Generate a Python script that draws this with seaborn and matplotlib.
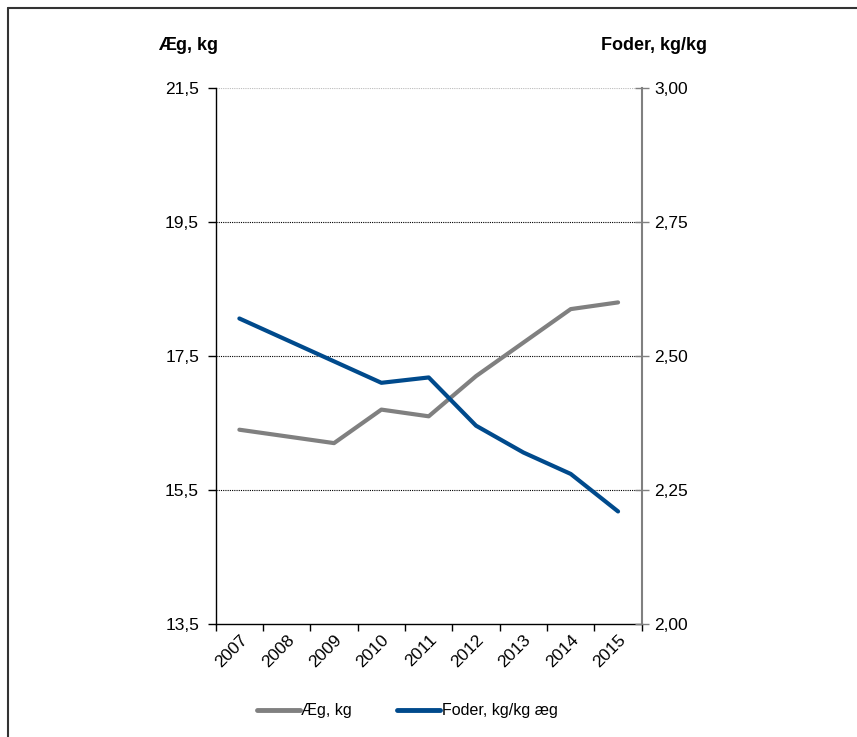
import matplotlib
matplotlib.use("Agg")
import matplotlib.pyplot as plt
from matplotlib.lines import Line2D
from matplotlib.ticker import FixedLocator, FuncFormatter
import seaborn as sns
import pandas as pd
import numpy as np

years = ["2007", "2008", "2009", "2010", "2011", "2012", "2013", "2014", "2015"]
aeg_kg = [16.4, 16.3, 16.2, 16.7, 16.6, 17.2, 17.7, 18.2, 18.3]
foder_kg_per_kg = [2.57, 2.53, 2.49, 2.45, 2.46, 2.37, 2.32, 2.28, 2.21]

left_label = "Æg, kg"
right_label = "Foder, kg/kg"
legend_aeg = "Æg, kg"
legend_foder = "Foder, kg/kg æg"

sns.set_style("white")
plt.rcParams["font.family"] = ["Liberation Sans", "DejaVu Sans"]
plt.rcParams["text.color"] = "black"
plt.rcParams["xtick.labelcolor"] = "black"
plt.rcParams["ytick.labelcolor"] = "black"

df = pd.DataFrame({"pos": np.arange(len(years)), "aeg": aeg_kg, "foder": foder_kg_per_kg})

fig = plt.figure(figsize=(8.57, 7.37), dpi=100)
ax = fig.add_axes([0.2517, 0.1533, 0.4971, 0.7273])
ax2 = ax.twinx()

gray = "#808080"
blue = "#004A8C"

sns.lineplot(data=df, x="pos", y="aeg", ax=ax, color=gray, linewidth=3.0,
             label=legend_aeg, legend=False)
sns.lineplot(data=df, x="pos", y="foder", ax=ax2, color=blue, linewidth=3.0,
             label=legend_foder, legend=False)
ax.lines[0].set_solid_capstyle("round")
ax2.lines[0].set_solid_capstyle("round")

# left axis
ax.set_xlim(-0.5, len(years) - 0.5)
ax.set_ylim(13.5, 21.5)
ax.set_yticks([13.5, 15.5, 17.5, 19.5, 21.5])
ax.yaxis.set_major_formatter(FuncFormatter(lambda v, p: f"{v:.1f}".replace(".", ",")))
for yv in [15.5, 17.5, 19.5]:
    ax.axhline(yv, color="black", linestyle=(0, (1, 1)), linewidth=0.8, zorder=0)
ax.axhline(21.5, color="#bbbbbb", linestyle=(0, (1, 1)), linewidth=0.8, zorder=0)

# right axis
ax2.set_ylim(2.0, 3.0)
ax2.set_yticks([2.0, 2.25, 2.5, 2.75, 3.0])
ax2.yaxis.set_major_formatter(FuncFormatter(lambda v, p: f"{v:.2f}".replace(".", ",")))

# category axis: tick marks between categories, labels at centres
ax.xaxis.set_major_locator(FixedLocator(np.arange(-0.5, len(years), 1.0)))
ax.xaxis.set_minor_locator(FixedLocator(np.arange(len(years))))
ax.set_xticklabels([], minor=False)
ax.set_xticklabels(years, minor=True, rotation=45, ha="right", rotation_mode="anchor")
ax.tick_params(axis="x", which="major", direction="out", length=5, width=1.0,
               color="black", bottom=True)
ax.tick_params(axis="x", which="minor", length=0, labelsize=12.5, pad=6,
               labelcolor="black")
ax.set_xlabel("")
ax.set_ylabel("")
ax2.set_ylabel("")

ax.tick_params(axis="y", direction="out", length=6, width=1.0, color="black",
               labelsize=12.5, left=True, pad=6, labelcolor="black")
ax2.tick_params(axis="y", direction="inout", length=10, width=1.0, color=gray,
                labelsize=12.5, right=True, pad=4, labelcolor="black")

for a in (ax, ax2):
    a.spines["top"].set_visible(False)
ax.spines["right"].set_visible(False)
ax2.spines["left"].set_visible(False)
ax2.spines["bottom"].set_visible(False)
ax.spines["left"].set_color("black")
ax.spines["bottom"].set_color("black")
ax2.spines["right"].set_color(gray)
for s in ("left", "bottom"):
    ax.spines[s].set_linewidth(1.0)
ax2.spines["right"].set_linewidth(1.5)

# axis titles
fig.text(158 / 857, 1 - 45 / 737, left_label, fontsize=13, fontweight="bold",
         ha="left", va="center", color="black")
fig.text(601 / 857, 1 - 45 / 737, right_label, fontsize=13, fontweight="bold",
         ha="left", va="center", color="black")

# legend
handles = [Line2D([0], [0], color=gray, linewidth=3.5),
           Line2D([0], [0], color=blue, linewidth=3.5)]
fig.legend(handles, [legend_aeg, legend_foder], loc="center",
           bbox_to_anchor=(0.475, 1 - 711 / 737), ncol=2, frameon=False,
           fontsize=11.5, handlelength=2.7, handletextpad=0.1, columnspacing=2.8,
           labelcolor="black")

# frame lines along top and left edge
fig.add_artist(Line2D([8 / 857, 8 / 857], [0, 1 - 8 / 737], transform=fig.transFigure,
                      color="#333333", linewidth=1.5))
fig.add_artist(Line2D([8 / 857, 1], [1 - 8 / 737, 1 - 8 / 737], transform=fig.transFigure,
                      color="#333333", linewidth=1.5))

fig.savefig("out.png", dpi=100)
